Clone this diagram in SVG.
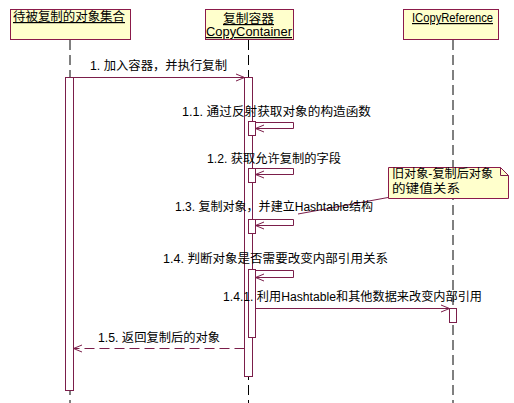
<svg xmlns="http://www.w3.org/2000/svg" width="514" height="403" viewBox="0 0 514 403">
<style>
text{font-family:"Liberation Sans","Noto Sans CJK SC",sans-serif;font-size:12px;fill:#000}
.hdr{fill:#FFFFCC;stroke:#8B1A4A;stroke-width:1}
.life{stroke:#000;stroke-width:1;stroke-dasharray:10,5;fill:none}
.act{fill:#fff;stroke:#7B1E4A;stroke-width:1}
.msg{stroke:#7B1E4A;stroke-width:1;fill:none}
.ret{stroke:#7B1E4A;stroke-width:1;fill:none;stroke-dasharray:10,5}
.u{text-decoration:underline}
</style>
<rect width="514" height="403" fill="#fff"/>
<g id="lifelines">
<line class="life" x1="70" y1="40" x2="70" y2="403"/>
<line class="life" x1="248.5" y1="40" x2="248.5" y2="403"/>
<line class="life" x1="453" y1="40" x2="453" y2="403"/>
</g>
<g id="node-objects">
<rect class="hdr" x="10.5" y="9.5" width="120" height="30"/>
<text class="u" x="13" y="21" textLength="112" lengthAdjust="spacingAndGlyphs">待被复制的对象集合</text>
</g>
<g id="node-container">
<rect class="hdr" x="205.5" y="9.5" width="88" height="30"/>
<text class="u" x="223" y="23" textLength="51" lengthAdjust="spacingAndGlyphs">复制容器</text>
<text class="u" x="206" y="36" textLength="86" lengthAdjust="spacingAndGlyphs">CopyContainer</text>
</g>
<g id="node-icopy">
<rect class="hdr" x="403.5" y="9.5" width="95" height="30"/>
<text class="u" x="412" y="22" textLength="81" lengthAdjust="spacingAndGlyphs">ICopyReference</text>
</g>
<g id="activations">
<rect class="act" x="65.5" y="77.5" width="8" height="313"/>
<rect class="act" x="244.5" y="77.5" width="8" height="299"/>
<rect class="act" x="248.5" y="121.5" width="7" height="14"/>
<rect class="act" x="248.5" y="168.5" width="7" height="14"/>
<rect class="act" x="248.5" y="219.5" width="7" height="14"/>
<rect class="act" x="248.5" y="269.5" width="7" height="68"/>
<rect class="act" x="449.5" y="308.5" width="7" height="14"/>
</g>
<g id="connectors">
<path class="msg" d="M73.5,77.5 H244.5 M236,74 L244.5,77.5 L236,81"/>
<path class="msg" d="M255.5,122.5 H293.5 V128.5 H255.5 M264,125 L255.5,128.5 L264,132"/>
<path class="msg" d="M255.5,168.5 H293.5 V174.5 H255.5 M264,171 L255.5,174.5 L264,178"/>
<path class="msg" d="M255.5,219.5 H293.5 V225.5 H255.5 M264,222 L255.5,225.5 L264,229"/>
<path class="msg" d="M255.5,270.5 H293.5 V277.5 H255.5 M264,274 L255.5,277.5 L264,281"/>
<path class="msg" d="M255.5,308.5 H449.5 M441,305 L449.5,308.5 L441,312"/>
<path class="ret" d="M244.5,348.5 H73.5"/>
<path class="msg" d="M82,345 L73.5,348.5 L82,352"/>
<path class="msg" d="M388,197.5 L298,214"/>
</g>
<g id="labels">
<text x="90" y="70" textLength="137" lengthAdjust="spacingAndGlyphs">1. 加入容器，并执行复制</text>
<text x="182" y="116" textLength="189" lengthAdjust="spacingAndGlyphs">1.1. 通过反射获取对象的构造函数</text>
<text x="207" y="163" textLength="134" lengthAdjust="spacingAndGlyphs">1.2. 获取允许复制的字段</text>
<text x="175" y="211" textLength="198" lengthAdjust="spacingAndGlyphs">1.3. 复制对象，并建立Hashtable结构</text>
<text x="163" y="263" textLength="225" lengthAdjust="spacingAndGlyphs">1.4. 判断对象是否需要改变内部引用关系</text>
<text x="223" y="301" textLength="259" lengthAdjust="spacingAndGlyphs">1.4.1. 利用Hashtable和其他数据来改变内部引用</text>
<text x="98" y="342" textLength="122" lengthAdjust="spacingAndGlyphs">1.5. 返回复制后的对象</text>
</g>
<g id="node-note">
<path class="hdr" d="M388.5,167.5 H500.5 L508.5,175.5 V198.5 H388.5 Z"/>
<path class="msg" d="M500.5,167.5 V175.5 H508.5"/>
<text x="392" y="178" textLength="101" lengthAdjust="spacingAndGlyphs">旧对象-复制后对象</text>
<text x="392" y="193" textLength="68" lengthAdjust="spacingAndGlyphs">的键值关系</text>
</g>
</svg>
